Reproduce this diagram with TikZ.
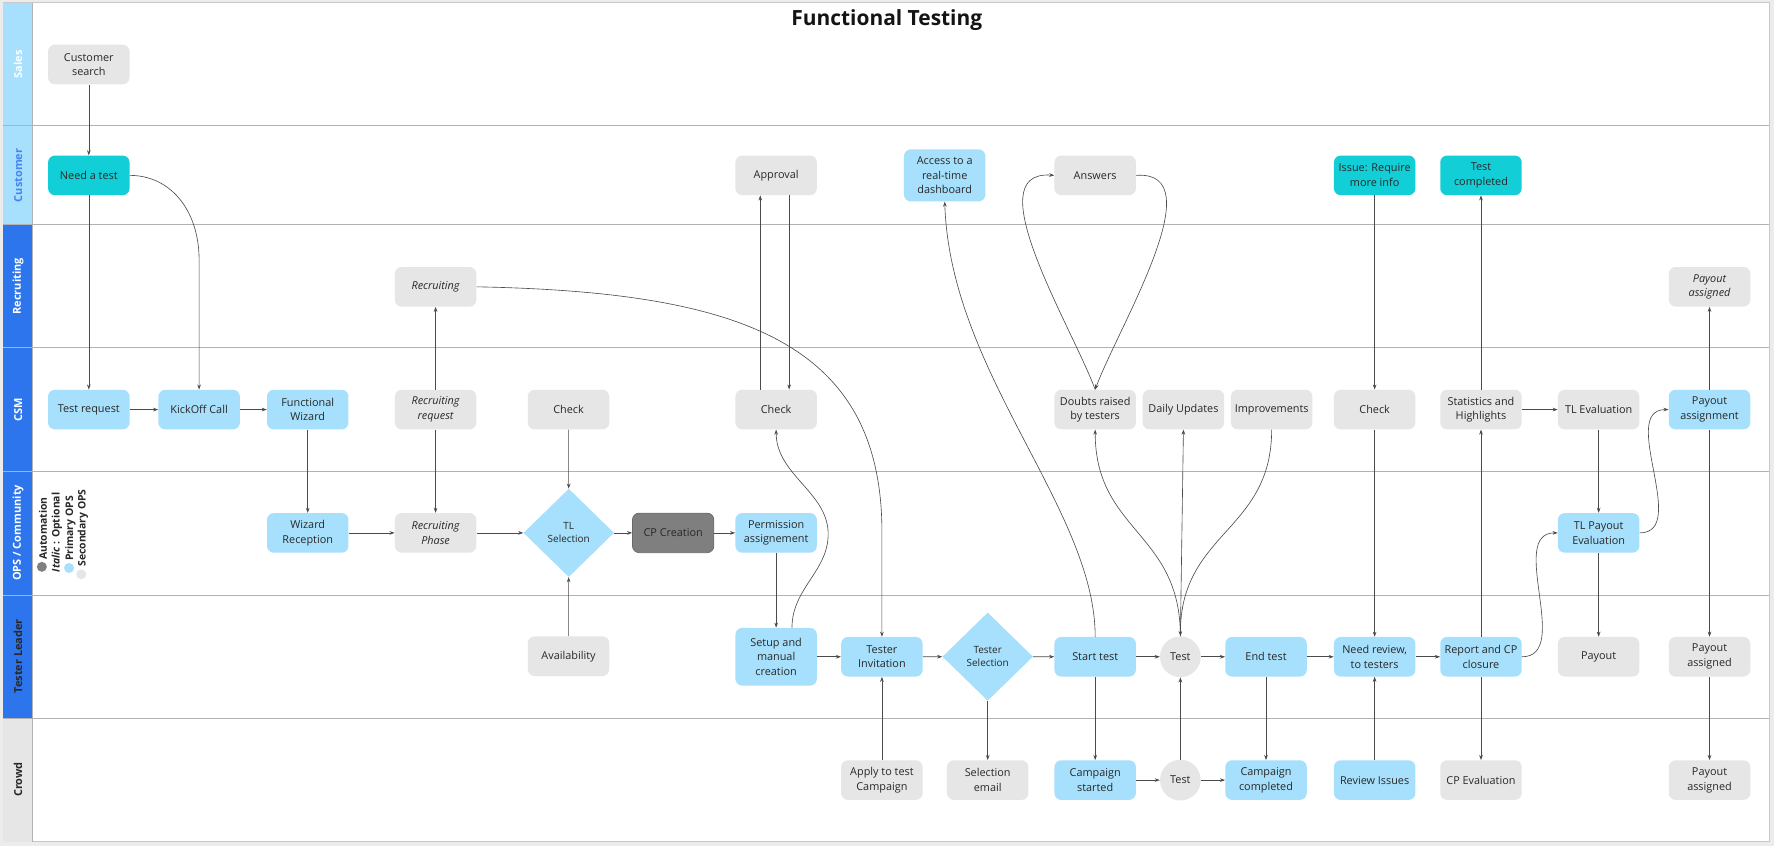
\documentclass[tikz,border=0pt]{standalone}
\usepackage{fontspec}
\usetikzlibrary{shapes.geometric,arrows.meta,calc}
\setmainfont{Open Sans}
\newfontfamily\osans{Open Sans}
\definecolor{pblue}{RGB}{166,224,252}
\definecolor{tealc}{RGB}{18,206,214}
\definecolor{sgrey}{RGB}{230,230,230}
\definecolor{autoc}{RGB}{127,127,127}
\definecolor{autod}{RGB}{105,105,105}
\definecolor{hblue}{RGB}{45,117,236}
\definecolor{custc}{RGB}{70,132,242}
\definecolor{txtc}{RGB}{40,40,40}
\definecolor{lnc}{RGB}{75,75,75}
\definecolor{gridc}{RGB}{178,178,178}
\definecolor{bgc}{RGB}{236,236,236}
\definecolor{framec}{RGB}{200,200,200}
\definecolor{titlec}{RGB}{20,20,20}
\newcommand\bxfont{\osans\fontsize{9.6}{13}\selectfont}
\newcommand\dmfont{\osans\fontsize{8.8}{11.6}\selectfont}
\newcommand\lnfont{\osans\bfseries\fontsize{9.7}{11}\selectfont}
\newcommand\lgfont{\osans\bfseries\fontsize{9.2}{11}\selectfont}
\newcommand\ttlfont{\osans\bfseries\fontsize{18.5}{22}\selectfont}
\tikzset{
  box/.style={rectangle, rounded corners=6pt, minimum width=72pt, minimum height=35pt,
    align=center, inner sep=2pt, font=\bxfont, text=txtc},
  bluebox/.style={box, fill=pblue},
  greybox/.style={box, fill=sgrey},
  tealbox/.style={box, fill=tealc},
  darkbox/.style={box, fill=autoc, draw=autod, line width=0.6pt},
  ital/.style={font=\bxfont\itshape},
  dia/.style={diamond, fill=pblue, minimum width=80pt, minimum height=78pt, inner sep=0pt,
    align=center, font=\dmfont, text=txtc},
  circ/.style={circle, fill=sgrey, minimum size=36pt, inner sep=0pt, font=\bxfont, text=txtc},
  conn/.style={draw=lnc, line width=0.55pt, -{Stealth[length=4.5pt,width=3.2pt]}},
  laneline/.style={draw=gridc, line width=0.8pt},
  lanelabel/.style={rotate=90, font=\lnfont, inner sep=0pt},
  legend/.style={rotate=90, anchor=base west, inner sep=0pt, font=\lgfont, text=txtc},
}
\begin{document}
\begin{tikzpicture}[x=1pt, y=-1pt]
\useasboundingbox (0,0) rectangle (1568,748);
\fill[bgc] (0,0) rectangle (1568,748);
\filldraw[fill=white, draw=framec, line width=0.8pt] (3,2.5) rectangle (1564,744);
% header cells
\fill[pblue] (3,2.5) rectangle (28.5,198);
\fill[hblue] (3,198) rectangle (28.5,635);
\fill[sgrey] (3,635) rectangle (28.5,744);
% lane lines
\foreach \yy in {111,198,307.5,416.5,526,635}{
  \draw[laneline] (3,\yy) -- (1564,\yy);
}
\draw[laneline] (28.5,2.5) -- (28.5,744);
% lane labels
\node[lanelabel, text=white] (lsales) at (16,57) {Sales};
\node[lanelabel, text=custc] (lcust) at (16,155) {Customer};
\node[lanelabel, text=white] (lrecr) at (16,253) {Recruiting};
\node[lanelabel, text=white] (lcsm) at (16,362) {CSM};
\node[lanelabel, text=white] (lops) at (16,471) {OPS / Community};
\node[lanelabel, text=txtc] (ltl) at (16,580) {Tester Leader};
\node[lanelabel, text=txtc] (lcrowd) at (16,689) {Crowd};
% legend
\fill[autoc] (37,501) circle (4.4);
\node[legend] (lg1) at (41.5,495) {Automation};
\node[legend] (lg2) at (52.8,506) {\itshape Italic\/\upshape\ : Optional};
\fill[pblue] (61,502) circle (4.4);
\node[legend] (lg3) at (64.6,496) {Primary OPS};
\fill[sgrey] (71.8,507.6) circle (4.4);
\node[legend] (lg4) at (75.6,501) {Secondary OPS};
% title
\node[font=\ttlfont, text=titlec, anchor=base, inner sep=0pt] (title) at (783.8,22.6) {Functional Testing};
% Sales
\node[greybox] (cs) at (78.5,57) {Customer\\search};
% Customer
\node[tealbox] (need) at (78.5,155) {Need a test};
\node[greybox] (appr) at (686,155) {Approval};
\node[bluebox, minimum height=46pt] (access) at (835,155) {Access to a\\real-time\\dashboard};
\node[greybox] (answers) at (968,155) {Answers};
\node[tealbox] (issue) at (1215,155) {Issue: Require\\more info};
\node[tealbox] (tcomp) at (1309,155) {Test\\completed};
% Recruiting
\node[greybox, ital] (recr) at (385,253.5) {Recruiting};
\node[greybox, ital] (payassR) at (1511,253.5) {Payout\\assigned};
% CSM
\node[bluebox] (treq) at (78.5,362) {Test request};
\node[bluebox] (kick) at (176,362) {KickOff Call};
\node[bluebox] (fwiz) at (272,362) {Functional\\Wizard};
\node[greybox, ital] (recrreq) at (385,362) {Recruiting\\request};
\node[greybox] (check1) at (502.5,362) {Check};
\node[greybox] (check2) at (686,362) {Check};
\node[greybox] (doubts) at (968,362) {Doubts raised\\by testers};
\node[greybox] (daily) at (1046,362) {Daily Updates};
\node[greybox] (impr) at (1124,362) {Improvements};
\node[greybox] (check3) at (1215,362) {Check};
\node[greybox] (stats) at (1309,362) {Statistics and\\Highlights};
\node[greybox] (tleval) at (1413,362) {TL Evaluation};
\node[bluebox] (payassign) at (1511,362) {Payout\\assignment};
% OPS
\node[bluebox] (wrec) at (272,471) {Wizard\\Reception};
\node[greybox, ital] (rphase) at (385,471) {Recruiting\\Phase};
\node[dia] (tlsel) at (502.7,471) {TL\\Selection};
\node[darkbox] (cpc) at (595,471) {CP Creation};
\node[bluebox] (perm) at (686,471) {Permission\\assignement};
\node[bluebox] (tlpay) at (1413,471) {TL Payout\\Evaluation};
% Tester Leader
\node[greybox] (avail) at (502.5,580) {Availability};
\node[bluebox, minimum height=51pt] (setup) at (686,580.5) {Setup and\\manual\\creation};
\node[bluebox] (tinv) at (779.5,580.5) {Tester\\Invitation};
\node[dia] (tsel) at (873,580.4) {Tester\\Selection};
\node[bluebox] (start) at (968,580.5) {Start test};
\node[circ] (test1) at (1043.3,580.5) {Test};
\node[bluebox] (endt) at (1119,580.5) {End test};
\node[bluebox] (needrev) at (1215,580.5) {Need review,\\to testers};
\node[bluebox] (report) at (1309,580.5) {Report and CP\\closure};
\node[greybox] (payout) at (1413,580.5) {Payout};
\node[greybox] (payassTL) at (1511,580.5) {Payout\\assigned};
% Crowd
\node[greybox] (apply) at (779.5,689.5) {Apply to test\\Campaign};
\node[greybox] (selem) at (873,689.5) {Selection\\email};
\node[bluebox] (cstart) at (968,689.5) {Campaign\\started};
\node[circ] (test2) at (1043.3,689.5) {Test};
\node[bluebox] (ccomp) at (1119,689.5) {Campaign\\completed};
\node[bluebox] (revi) at (1215,689.5) {Review Issues};
\node[greybox] (cpeval) at (1309,689.5) {CP Evaluation};
\node[greybox] (payassC) at (1511,689.5) {Payout\\assigned};
% ---------- connectors ----------
\draw[conn] (cs) -- (need);
\draw[conn] (need) -- (treq);
\draw[conn] (need.east) .. controls (150,155) and (176,185) .. (176,230) -- (kick.north);
\draw[conn] (treq) -- (kick);
\draw[conn] (kick) -- (fwiz);
\draw[conn] (fwiz) -- (wrec);
\draw[conn] (wrec) -- (rphase);
\draw[conn] (recrreq) -- (recr);
\draw[conn] (recrreq) -- (rphase);
\draw[conn] (rphase) -- (tlsel);
\draw[conn] (check1) -- (tlsel);
\draw[conn] (avail) -- (tlsel);
\draw[conn] (tlsel) -- (cpc);
\draw[conn] (cpc) -- (perm);
\draw[conn] (perm) -- (setup);
\draw[conn] ($(check2.north)+(-14,0)$) -- ($(appr.south)+(-14,0)$);
\draw[conn] ($(appr.south)+(11.5,0)$) -- ($(check2.north)+(11.5,0)$);
\draw[conn] ($(setup.north)+(14,0)$) .. controls (700,520) and (732,505) .. (732,472)
   .. controls (732,435) and (686,420) .. (check2.south);
\draw[conn] (recr.east) .. controls (650,258) and (779.5,300) .. (779.5,470) -- (tinv.north);
\draw[conn] (setup) -- (tinv);
\draw[conn] (apply) -- (tinv);
\draw[conn] (tinv) -- (tsel);
\draw[conn] (tsel) -- (selem);
\draw[conn] (tsel) -- (start);
\draw[conn] (start) -- (cstart);
\draw[conn] (start.north) .. controls (968,450) and (840,330) .. (access.south);
\draw[conn] (start) -- (test1);
\draw[conn] (cstart) -- (test2);
\draw[conn] (test2) -- (test1);
\draw[conn] (test2) -- (ccomp);
\draw[conn] (test1) -- (endt);
\draw[conn] (test1.north) .. controls (1043.3,470) and (968,470) .. (doubts.south);
\draw[conn] (test1.north) -- (daily.south);
\draw[conn] (impr.south) .. controls (1124,470) and (1043.3,470) .. (test1.north);
\draw[conn] (doubts.north) .. controls (948,290) and (862,150) .. (answers.west);
\draw[conn] (answers.east) .. controls (1074,150) and (988,290) .. (doubts.north);
\draw[conn] (endt) -- (ccomp);
\draw[conn] (endt) -- (needrev);
\draw[conn] (issue) -- (check3);
\draw[conn] (check3) -- (needrev);
\draw[conn] (revi) -- (needrev);
\draw[conn] (needrev) -- (report);
\draw[conn] (report) -- (stats);
\draw[conn] (stats) -- (tcomp);
\draw[conn] (report) -- (cpeval);
\draw[conn] (stats) -- (tleval);
\draw[conn] (report.east) .. controls (1390,580.5) and (1332,471) .. (tlpay.west);
\draw[conn] (tleval) -- (tlpay);
\draw[conn] (tlpay) -- (payout);
\draw[conn] (tlpay.east) .. controls (1494,471) and (1430,362) .. (payassign.west);
\draw[conn] (payassign) -- (payassR);
\draw[conn] (payassign) -- (payassTL);
\draw[conn] (payassTL) -- (payassC);
\end{tikzpicture}
\end{document}
